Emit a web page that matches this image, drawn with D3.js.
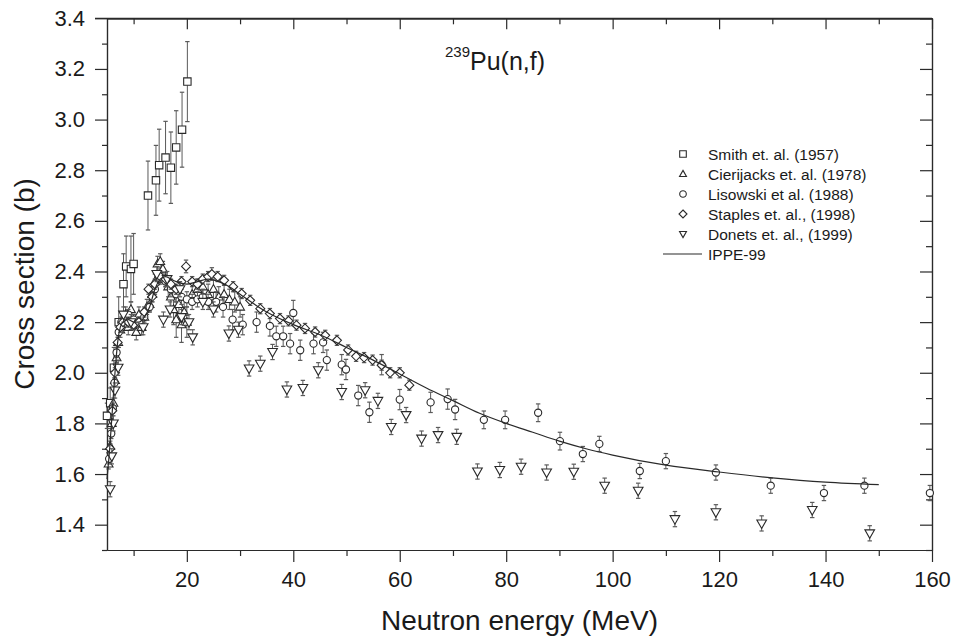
<!DOCTYPE html>
<html><head><meta charset="utf-8">
<script src="https://cdn.jsdelivr.net/npm/d3@7"></script>
<style>body{margin:0;background:#fff} text{font-family:"Liberation Sans",Arial,sans-serif;fill:#1a1a1a}</style>
</head><body><svg id="c" width="957" height="644"></svg>
<script>
// ---- data ----
const smithE   = [5.0, 5.6, 6.3, 7.2, 8.1, 8.6, 9.5, 10.0, 12.7, 14.2, 14.8, 16.0, 17.0, 18.0, 19.1, 20.1];
const smithY   = [1.83, 1.88, 2.02, 2.20, 2.35, 2.42, 2.41, 2.43, 2.70, 2.76, 2.82, 2.85, 2.81, 2.89, 2.96, 3.15];
const smithErr = [0.05, 0.06, 0.08, 0.10, 0.12, 0.12, 0.13, 0.12, 0.136, 0.138, 0.142, 0.143, 0.141, 0.145, 0.148, 0.158];

const cierE   = [5.3,5.6,5.9,6.2,6.5,6.8,7.1,7.5,8.0,8.5,9.0,9.5,10.0,10.5,11.0,11.5,12.0,12.5,13.0,13.5,14.0,14.5,15.0,15.5,16.0,16.5,17.0,17.5,18.0,18.5,19.0,19.5,20.0,21.0,22.0,23.0,24.0,25.0,26.0,27.0,28.0,29.0,30.0];
const cierY   = [1.64,1.71,1.80,1.88,1.97,2.06,2.12,2.17,2.21,2.23,2.18,2.25,2.20,2.16,2.23,2.18,2.22,2.26,2.27,2.31,2.36,2.43,2.44,2.41,2.37,2.34,2.30,2.25,2.21,2.27,2.19,2.24,2.20,2.31,2.33,2.34,2.31,2.33,2.30,2.31,2.29,2.28,2.26];
const cierErr = [0.02,0.02,0.02,0.02,0.02,0.02,0.02,0.03,0.03,0.03,0.03,0.03,0.03,0.03,0.03,0.03,0.03,0.03,0.03,0.03,0.03,0.03,0.03,0.03,0.03,0.04,0.06,0.06,0.07,0.06,0.07,0.06,0.06,0.04,0.04,0.04,0.04,0.04,0.04,0.04,0.04,0.04,0.04];

const lisE   = [5.4,5.8,6.1,6.4,6.8,7.2,7.7,8.3,9.0,10.0,11.0,12.0,13.0,14.0,15.0,16.0,17.0,18.0,19.0,20.0,21.0,22.0,23.0,24.0,25.5,26.8,28.6,30.5,33.1,35.6,36.8,38.1,39.4,40.0,41.3,43.8,45.6,46.3,49.1,49.9,52.2,54.3,56.6,60.0,65.8,69.0,70.4,75.8,79.8,86.0,90.1,94.4,97.5,105.1,110.0,119.4,129.7,139.7,147.3,159.6];
const lisY   = [1.66,1.76,1.86,1.96,2.08,2.16,2.20,2.21,2.23,2.21,2.20,2.22,2.26,2.33,2.37,2.36,2.33,2.31,2.30,2.29,2.28,2.29,2.30,2.28,2.28,2.26,2.21,2.19,2.20,2.185,2.144,2.144,2.115,2.236,2.089,2.115,2.12,2.05,2.032,2.013,1.91,1.844,2.032,1.894,1.883,1.896,1.855,1.814,1.814,1.842,1.73,1.679,1.719,1.612,1.651,1.606,1.554,1.525,1.554,1.525];
const lisErr = [0.02,0.02,0.02,0.02,0.02,0.02,0.02,0.02,0.02,0.02,0.02,0.02,0.02,0.02,0.02,0.02,0.03,0.03,0.03,0.03,0.03,0.03,0.03,0.03,0.04,0.04,0.04,0.04,0.04,0.04,0.04,0.04,0.04,0.05,0.04,0.04,0.04,0.04,0.04,0.04,0.04,0.04,0.04,0.04,0.04,0.04,0.04,0.035,0.035,0.035,0.035,0.03,0.03,0.03,0.03,0.03,0.03,0.03,0.03,0.03];

const stapE   = [5.6,6.0,6.5,7.0,7.5,8.0,9.0,10.0,11.0,12.0,12.8,13.5,14.0,15.0,16.0,17.0,18.0,19.0,19.85,21.0,22.0,23.0,24.0,24.7,25.8,27.0,28.7,30.3,31.9,33.8,35.6,37.5,39.1,40.6,42.2,44.1,46.0,48.2,50.3,51.8,53.3,54.9,56.6,58.2,60.0,61.8];
const stapY   = [1.70,1.85,2.00,2.12,2.18,2.20,2.20,2.19,2.20,2.24,2.33,2.30,2.35,2.38,2.37,2.35,2.33,2.36,2.42,2.36,2.35,2.37,2.38,2.39,2.38,2.365,2.34,2.313,2.286,2.253,2.234,2.214,2.205,2.188,2.175,2.161,2.148,2.128,2.09,2.065,2.06,2.05,2.03,2.0,2.0,1.951];
const stapErr = [0.02,0.02,0.02,0.02,0.02,0.02,0.02,0.02,0.02,0.02,0.02,0.02,0.02,0.02,0.02,0.02,0.02,0.02,0.025,0.02,0.02,0.02,0.02,0.025,0.02,0.02,0.02,0.02,0.02,0.02,0.02,0.02,0.02,0.02,0.02,0.02,0.02,0.02,0.02,0.02,0.02,0.02,0.02,0.02,0.02,0.02];

const donE   = [5.6,5.9,6.2,6.5,7.1,8.1,9.5,11.8,14.35,15.6,16.3,16.85,18.7,19.0,20.4,21.1,23.0,25.0,27.9,29.7,31.7,33.8,36.1,38.8,41.8,44.7,49.1,53.5,55.9,58.4,61.2,64.1,67.2,70.7,74.6,78.8,82.8,87.6,92.7,98.5,104.8,111.7,119.4,128.0,137.5,148.3];
const donY   = [1.54,1.67,1.80,1.93,2.02,2.23,2.20,2.18,2.39,2.21,2.37,2.25,2.33,2.22,2.20,2.14,2.28,2.25,2.155,2.17,2.017,2.036,2.082,1.934,1.94,2.01,1.924,1.931,1.889,1.786,1.833,1.74,1.754,1.747,1.61,1.616,1.629,1.606,1.609,1.554,1.534,1.422,1.449,1.405,1.458,1.366];
const donErr = 0.03;

const ippeE = [5,5.5,6,6.5,7,7.5,8,9,10,11,12,13,14,15,16,17,18,20,22,24,26,28,30,35,40,45,50,55,60,65,70,75,80,85,90,95,100,110,120,130,140,150];
const ippeY = [1.58,1.70,1.85,2.00,2.12,2.18,2.20,2.21,2.20,2.20,2.22,2.26,2.33,2.37,2.38,2.37,2.36,2.35,2.36,2.37,2.36,2.34,2.31,2.24,2.19,2.15,2.10,2.05,1.995,1.94,1.89,1.84,1.80,1.765,1.73,1.70,1.675,1.635,1.608,1.585,1.568,1.558];

const xMajor = [20,40,60,80,100,120,140,160];
const xMinor = [10,30,50,70,90,110,130,150];
const yMajor = [1.4,1.6,1.8,2.0,2.2,2.4,2.6,2.8,3.0,3.2,3.4];
const yMinor = [1.3,1.5,1.7,1.9,2.1,2.3,2.5,2.7,2.9,3.1,3.3];

const legendNames = ["Smith et. al. (1957)","Cierijacks et. al. (1978)","Lisowski et al. (1988)","Staples et. al., (1998)","Donets et. al., (1999)","IPPE-99"];

// ---- drawing ----
const svg = d3.select("#c");
const x = d3.scaleLinear().domain([5,160]).range([107,932]);
const y = d3.scaleLinear().domain([1.3,3.4]).range([550,18.3]);
const INK = "#2a2a2a", BAR = "#5a5a5a";

function styleAxis(g, hideText){
  g.select(".domain").attr("stroke", INK).attr("stroke-width",1.2);
  g.selectAll(".tick line").attr("stroke", INK).attr("stroke-width",1.2);
  g.selectAll(".tick text").attr("font-size",22).attr("fill","#1a1a1a")
   .attr("font-family","Liberation Sans, Arial, sans-serif");
  if(hideText) g.selectAll(".tick text").remove();
}
const fmt1 = d3.format(".1f");
// bottom
svg.append("g").attr("transform","translate(0,550)")
  .call(d3.axisBottom(x).tickValues(xMinor).tickSize(6).tickSizeOuter(0)).call(g=>styleAxis(g,true));
svg.append("g").attr("transform","translate(0,550)")
  .call(d3.axisBottom(x).tickValues(xMajor).tickSize(12).tickSizeOuter(0).tickPadding(9.5)).call(g=>styleAxis(g,false));
// top (inward)
svg.append("g").attr("transform","translate(0,18.3)")
  .call(d3.axisBottom(x).tickValues(xMinor).tickSize(6).tickSizeOuter(0)).call(g=>styleAxis(g,true));
svg.append("g").attr("transform","translate(0,18.3)")
  .call(d3.axisBottom(x).tickValues(xMajor).tickSize(11).tickSizeOuter(0)).call(g=>styleAxis(g,true));
// left
svg.append("g").attr("transform","translate(107,0)")
  .call(d3.axisLeft(y).tickValues(yMinor).tickSize(5).tickSizeOuter(0)).call(g=>styleAxis(g,true));
svg.append("g").attr("transform","translate(107,0)")
  .call(d3.axisLeft(y).tickValues(yMajor).tickSize(12).tickSizeOuter(0).tickPadding(10).tickFormat(fmt1)).call(g=>styleAxis(g,false));
// right (inward)
svg.append("g").attr("transform","translate(932,0)")
  .call(d3.axisLeft(y).tickValues(yMinor).tickSize(6).tickSizeOuter(0)).call(g=>styleAxis(g,true));
svg.append("g").attr("transform","translate(932,0)")
  .call(d3.axisLeft(y).tickValues(yMajor).tickSize(12).tickSizeOuter(0)).call(g=>styleAxis(g,true));
// top border extension to left major tick
svg.append("line").attr("x1",95).attr("x2",932).attr("y1",y(3.4)).attr("y2",y(3.4)).attr("stroke",INK).attr("stroke-width",1.2);

// marker shapes
const shapes = {
  square: r => `M${-r},${-r}H${r}V${r}H${-r}Z`,
  triUp: r => `M0,${-r*1.1}L${r*1.05},${r*0.75}L${-r*1.05},${r*0.75}Z`,
  triDown: r => `M0,${r*1.1}L${r*1.05},${-r*0.75}L${-r*1.05},${-r*0.75}Z`,
  circle: r => `M${r},0A${r},${r} 0 1,1 ${-r},0A${r},${r} 0 1,1 ${r},0Z`,
  diamond: r => `M0,${-r}L${r},0L0,${r}L${-r},0Z`
};

const plot = svg.append("g");
function series(E, Y, Err, shape, r){
  const data = E.map((e,i)=>({e, v:Y[i], err: Array.isArray(Err)?Err[i]:Err}));
  const g = plot.append("g");
  const eb = g.selectAll("g.eb").data(data).join("g");
  eb.append("line").attr("x1",d=>x(d.e)).attr("x2",d=>x(d.e))
    .attr("y1",d=>y(d.v-d.err)).attr("y2",d=>y(d.v+d.err)).attr("stroke",BAR).attr("stroke-width",1);
  eb.append("line").attr("x1",d=>x(d.e)-2.2).attr("x2",d=>x(d.e)+2.2)
    .attr("y1",d=>y(d.v+d.err)).attr("y2",d=>y(d.v+d.err)).attr("stroke",BAR).attr("stroke-width",1.2);
  eb.append("line").attr("x1",d=>x(d.e)-2.2).attr("x2",d=>x(d.e)+2.2)
    .attr("y1",d=>y(d.v-d.err)).attr("y2",d=>y(d.v-d.err)).attr("stroke",BAR).attr("stroke-width",1.2);
  g.selectAll("path.m").data(data).join("path").attr("class","m")
    .attr("transform",d=>`translate(${x(d.e)},${y(d.v)})`)
    .attr("d",shapes[shape](r)).attr("fill","#fff").attr("stroke",INK).attr("stroke-width",1.1);
}
series(smithE, smithY, smithErr, "square", 3.7);
series(cierE, cierY, cierErr, "triUp", 4.2);
series(lisE, lisY, lisErr, "circle", 3.6);
series(stapE, stapY, stapErr, "diamond", 4.5);
series(donE, donY, donErr, "triDown", 4.6);

// IPPE-99 curve
const line = d3.line().x((d,i)=>x(ippeE[i])).y(d=>y(d)).curve(d3.curveMonotoneX);
plot.append("path").attr("d", line(ippeY)).attr("fill","none").attr("stroke",INK).attr("stroke-width",1.2);

// title
const t = svg.append("text").attr("x",445).attr("y",70).attr("font-size",25);
t.append("tspan").attr("font-size",15).attr("dy",-13).text("239");
t.append("tspan").attr("dy",13).text("Pu(n,f)");

// legend
const legShapes = ["square","triUp","circle","diamond","triDown"];
const leg = svg.append("g");
legendNames.forEach((name,i)=>{
  const cy = 154 + i*20;
  if(i<5){
    leg.append("path").attr("transform",`translate(683,${cy})`).attr("d",shapes[legShapes[i]](legShapes[i]==="diamond"?4:3.3))
      .attr("fill","#fff").attr("stroke",INK).attr("stroke-width",1.1);
  } else {
    leg.append("line").attr("x1",663).attr("x2",702).attr("y1",cy).attr("y2",cy).attr("stroke",INK).attr("stroke-width",1.2);
  }
  leg.append("text").attr("x",708).attr("y",cy+5.5).attr("font-size",15.5).text(name);
});

// axis titles
svg.append("text").attr("x",519.5).attr("y",630).attr("text-anchor","middle").attr("font-size",28).text("Neutron energy (MeV)");
svg.append("text").attr("transform","translate(34,284) rotate(-90)").attr("text-anchor","middle").attr("font-size",28).text("Cross section (b)");
</script></body></html>
